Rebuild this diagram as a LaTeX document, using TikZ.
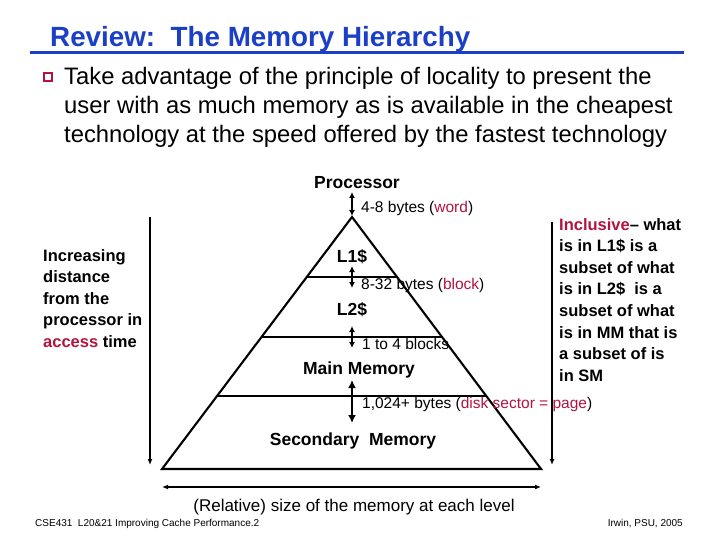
\documentclass[tikz,border=0pt]{standalone}
\usepackage{fontspec}
\setmainfont{Liberation Sans}
\usepackage{xcolor}
\usetikzlibrary{arrows.meta,positioning,calc}
\definecolor{ink}{HTML}{000000}
\definecolor{titleblue}{HTML}{1B3FC6}
\definecolor{hilite}{HTML}{B3133F}
\tikzset{
  levelname/.style={font=\fontsize{17.5}{20}\selectfont\bfseries, inner sep=0pt},
  bwlabel/.style={font=\fontsize{15.5}{18}\selectfont, inner sep=0pt, anchor=west},
  sidetext/.style={font=\fontsize{16.5}{21.6}\selectfont\bfseries, align=left, inner sep=0pt, anchor=north west},
  link/.style={{Latex[length=6pt,width=6pt]}-{Latex[length=6pt,width=6pt]}, line width=1.8pt},
  biglink/.style={{Latex[length=8pt,width=8pt]}-{Latex[length=8pt,width=8pt]}, line width=2.8pt},
  axis/.style={-{Latex[length=6pt,width=5pt]}, line width=1.6pt},
  edge/.style={line width=2.1pt},
  foot/.style={font=\fontsize{10}{12}\selectfont, inner sep=0pt}
}

\begin{document}
\begin{tikzpicture}[x=1pt, y=-1pt]
  \useasboundingbox (0,0) rectangle (720,540);

  % title and bullet
  \node[anchor=base west, inner sep=0pt, text=titleblue, font=\fontsize{27.8}{30}\selectfont\bfseries] (title) at (50,47) {Review:\ \ The Memory Hierarchy};
  \fill[titleblue] (30,51) rectangle (684,54.5);
  \node[draw=hilite, line width=1.3pt, fill=white, minimum size=8pt, inner sep=0pt] (bullet) at (48,77) {};
  \node[anchor=north west, inner sep=0pt, align=left, font=\fontsize{23.8}{29}\selectfont] (intro) at (64,67)
    {Take advantage of the principle of locality to present the\\
     user with as much memory as is available in the cheapest\\
     technology at the speed offered by the fastest technology};

  % pyramid
  \coordinate (apex) at (352,217);
  \coordinate (baseL) at (162,469);
  \coordinate (baseR) at (541,469);
  \draw[edge] (apex) -- (baseL) -- (baseR) -- cycle;
  \draw[edge] ($(apex)!0.238!(baseL)$) -- ($(apex)!0.238!(baseR)$);
  \draw[edge] ($(apex)!0.476!(baseL)$) -- ($(apex)!0.476!(baseR)$);
  \draw[edge] ($(apex)!0.710!(baseL)$) -- ($(apex)!0.710!(baseR)$);

  \node[levelname] (proc) at (357,183) {Processor};
  \node[levelname] (l1) at (352,257) {L1\$};
  \node[levelname] (l2) at (352,310) {L2\$};
  \node[levelname] (mm) at (359,370) {Main Memory};
  \node[levelname] (sm) at (353,441) {Secondary\ \ Memory};

  % transfer units
  \coordinate (p0) at (352,192);
  \coordinate (p1) at (352,216);
  \coordinate (q0) at (352,266);
  \coordinate (q1) at (352,288);
  \coordinate (r0) at (352,326);
  \coordinate (r1) at (352,348);
  \coordinate (s0) at (352,380);
  \coordinate (s1) at (352,423);
  \draw[link] (p0) -- (p1);
  \draw[link] (q0) -- (q1);
  \draw[link] (r0) -- (r1);
  \draw[biglink] (s0) -- (s1);
  \node[bwlabel] (wordlbl) at (361,208) {4-8 bytes (\textcolor{hilite}{word})};
  \node[bwlabel] (blocklbl) at (361,285) {8-32 bytes (\textcolor{hilite}{block})};
  \node[bwlabel] (blockslbl) at (362,344) {1 to 4 blocks};
  \node[bwlabel] (pagelbl) at (362,404) {1,024+ bytes (\textcolor{hilite}{disk sector = page})};

  % side axes
  \coordinate (dtop) at (150,217);
  \coordinate (dbot) at (150,465);
  \draw[axis] (dtop) -- (dbot);
  \node[sidetext] (distance) at (43,249)
    {Increasing\\distance\\from the\\processor in\\\textcolor{hilite}{access} time};
  \coordinate (itop) at (552,222);
  \coordinate (ibot) at (552,465);
  \draw[axis] (itop) -- (ibot);
  \node[sidetext] (inclusive) at (559,218)
    {\textcolor{hilite}{Inclusive}-- what\\is in L1\$ is a\\subset of what\\is in L2\$\ \ is a\\subset of what\\is in MM that is\\a subset of is\\in SM};

  % size axis
  \coordinate (sleft) at (162,487);
  \coordinate (sright) at (541,487);
  \draw[axis, {Latex[length=6pt,width=5pt]}-{Latex[length=6pt,width=5pt]}] (sleft) -- (sright);
  \node[font=\fontsize{17}{20}\selectfont, inner sep=0pt] (sizelbl) at (354,507) {(Relative) size of the memory at each level};

  % footer
  \node[foot, anchor=west] (course) at (35,524) {CSE431\ \ L20\&21 Improving Cache Performance.2};
  \node[foot, anchor=east] (credit) at (683,524) {Irwin, PSU, 2005};
\end{tikzpicture}
\end{document}
